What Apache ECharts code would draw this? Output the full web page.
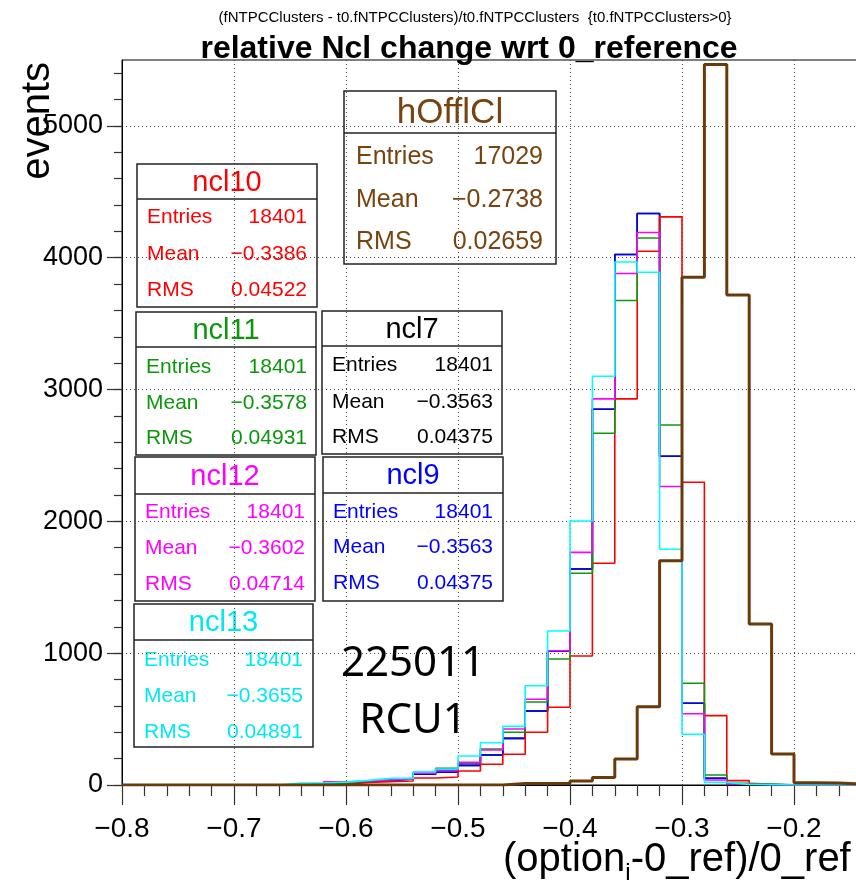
<!DOCTYPE html>
<html>
<head>
<meta charset="utf-8">
<script src="https://cdn.jsdelivr.net/npm/echarts@6/dist/echarts.min.js"></script>
<style>
html,body{margin:0;padding:0;background:#fff;}
#chart{width:856px;height:885px;}
</style>
</head>
<body>
<div id="chart"></div>
<script>
// ---------- data ----------
const binLow = [-0.80,-0.78,-0.76,-0.74,-0.72,-0.70,-0.68,-0.66,-0.64,-0.62,-0.60,-0.58,-0.56,-0.54,-0.52,-0.50,-0.48,-0.46,-0.44,-0.42,-0.40,-0.38,-0.36,-0.34,-0.32,-0.30,-0.28,-0.26,-0.24,-0.22,-0.20,-0.18,-0.16,-0.14,-0.12];
const binEnd = -0.10;

const ncl7  = [0,0,0,0,0,0,0,0,5,15,28,35,45,81,97,149,228,354,561,1015,1639,2850,4024,4335,2494,620,51,8,2,0,0,0,0,0,0];
const ncl9  = [0,0,0,0,0,0,0,0,5,15,28,35,45,81,97,149,228,354,561,1015,1639,2850,4024,4335,2494,620,51,8,2,0,0,0,0,0,0];
const ncl10 = [0,0,0,0,0,0,0,0,0,5,20,25,30,53,61,106,157,233,400,590,979,1682,2929,4049,4310,2297,526,33,5,0,0,0,0,0,0];
const ncl11 = [0,0,0,0,0,0,0,0,5,15,30,40,50,97,126,165,273,400,630,956,1606,2668,3675,4150,2731,772,76,12,8,2,0,0,0,0,0];
const ncl12 = [0,0,0,0,0,0,0,0,5,25,30,40,45,90,113,172,266,425,650,1019,1765,2929,3880,4191,2264,541,38,8,2,0,0,0,0,0,0];
const ncl13 = [0,0,0,0,0,0,0,15,15,22,35,50,50,99,121,220,321,445,753,1168,2003,3101,3968,3890,1788,385,20,5,3,0,0,0,0,0,0];
const hOfflCl = [0,0,0,0,0,0,0,0,0,0,0,0,0,0,0,0,0,12,12,12,30,56,197,594,1702,3852,5465,3718,1222,235,18,15,8,5,3];

const yMajorTicks = [0,1000,2000,3000,4000,5000];
const yMinorTicks = [0,200,400,600,800,1000,1200,1400,1600,1800,2000,2200,2400,2600,2800,3000,3200,3400,3600,3800,4000,4200,4400,4600,4800,5000,5200,5400];

const statNames   = ['hOfflCl','ncl10','ncl11','ncl7','ncl12','ncl9','ncl13'];
const statEntries = ['17029','18401','18401','18401','18401','18401','18401'];
const statMean    = ['\u22120.2738','\u22120.3386','\u22120.3578','\u22120.3563','\u22120.3602','\u22120.3563','\u22120.3655'];
const statRMS     = ['0.02659','0.04522','0.04931','0.04375','0.04714','0.04375','0.04891'];

const titleText = 'relative Ncl change wrt 0_reference';
const subTitleText = '(fNTPCClusters - t0.fNTPCClusters)/t0.fNTPCClusters  {t0.fNTPCClusters>0}';
const yTitle = 'events';
const runText = '225011';
const rcuText = 'RCU1';

// ---------- styles ----------
const C = {
  ncl7:'#000000', ncl9:'#0000ff', ncl10:'#ff0000', ncl11:'#0c9a0c', ncl12:'#ff00ff', ncl13:'#00ffff', hOfflCl:'#6b3a0b'
};
const statTextColor = {hOfflCl:'#774410', ncl10:'#ff0000', ncl11:'#0c960c', ncl7:'#000000', ncl12:'#ff00ff', ncl9:'#0000ff', ncl13:'#00e8f0'};

function histData(vals){
  const d = binLow.map((x,i)=>[x, vals[i]]);
  d.push([binEnd, vals[vals.length-1]]);
  return d;
}
function histSeries(name, vals, width){
  return {
    name, type:'line', step:'end', showSymbol:false, symbol:'none',
    data: histData(vals), clip:true, animation:false,
    lineStyle:{color:C[name], width:width}, itemStyle:{color:C[name]},
    xAxisIndex:0, yAxisIndex:0
  };
}

// stat box layouts: [x, y, w, h, headerY, titleSize, rowSize, rowYs, textLeft, textRight]
const boxLayout = {
  hOfflCl:[344,91,212,173,133,35,25,[157,200,242],356,543],
  ncl10:[137,164,180,143,199,29,21,[217,254,290],147,307],
  ncl11:[136,312,180,143,347,29,21,[367,403,438],146,307],
  ncl7:[322,311,180,143,346,29,21,[365,402,437],332,493],
  ncl12:[135,457,180,144,494,29,21,[512,548,584],145,305],
  ncl9:[323,457,180,144,493,29,21,[512,547,583],333,493],
  ncl13:[134,604,179,143,640,29,21,[660,696,732],144,303]
};
const FF = '"Liberation Sans", Arial, Helvetica, sans-serif';
function statBox(i){
  const n = statNames[i];
  const L = boxLayout[n];
  const [x,y,w,h,hy,ts,rs,rows,tl,tr] = L;
  const col = statTextColor[n];
  const els = [
    {type:'rect', shape:{x,y,width:w,height:h}, style:{fill:'#fff', stroke:'#222', lineWidth:1.5}},
    {type:'line', shape:{x1:x,y1:hy,x2:x+w,y2:hy}, style:{stroke:'#222', lineWidth:1.5}},
    {type:'text', x:x+w/2, y:(y+hy)/2+1, style:{text:n, fill:col, fontSize:ts, fontFamily:FF, align:'center', verticalAlign:'middle'}}
  ];
  const labels = ['Entries','Mean','RMS'];
  const vals = [statEntries[i], statMean[i], statRMS[i]];
  for(let k=0;k<3;k++){
    els.push({type:'text', x:tl, y:rows[k], style:{text:labels[k], fill:col, fontSize:rs, fontFamily:FF, align:'left', verticalAlign:'middle'}});
    els.push({type:'text', x:tr, y:rows[k], style:{text:vals[k], fill:col, fontSize:rs, fontFamily:FF, align:'right', verticalAlign:'middle'}});
  }
  return {type:'group', z:100, children:els};
}

const chart = echarts.init(document.getElementById('chart'), null, {renderer:'canvas'});
const gridLine = {show:true, lineStyle:{color:'#444', width:1, type:[1,3]}};

const option = {
  animation:false,
  backgroundColor:'#ffffff',
  grid:{left:122, top:60, width:784, height:725, containLabel:false, outerBoundsMode:'none', show:true, borderColor:'#000', borderWidth:1, backgroundColor:'transparent'},
  xAxis:[{
    type:'value', min:-0.8, max:-0.1, interval:0.1,
    axisLine:{show:true, onZero:false, lineStyle:{color:'#000', width:1}},
    axisTick:{show:true, inside:false, length:20, lineStyle:{color:'#333', width:1.2}},
    minorTick:{show:true, splitNumber:5, length:11, lineStyle:{color:'#333', width:1.2}},
    splitLine:gridLine,
    axisLabel:{margin:30, fontSize:28, color:'#000', fontFamily:FF,
      formatter:v=> (v<0?'\u2212':'') + Math.abs(v).toFixed(1)}
  }],
  yAxis:[{
    type:'value', min:0, max:5500, interval:1000,
    axisLine:{show:true, onZero:false, lineStyle:{color:'#000', width:1}},
    axisTick:{show:true, inside:false, length:15, customValues:yMajorTicks, lineStyle:{color:'#333', width:1.2}},
    splitLine:gridLine,
    axisLabel:{margin:19, fontSize:27, color:'#000', fontFamily:FF, customValues:yMajorTicks,
      formatter:v=>String(Math.round(v))}
  },{
    type:'value', min:0, max:5500, interval:200, position:'left',
    axisLine:{show:false},
    axisTick:{show:true, inside:false, length:8, customValues:yMinorTicks, lineStyle:{color:'#333', width:1.2}},
    splitLine:{show:false},
    axisLabel:{show:false}
  }],
  series:[
    histSeries('ncl7', ncl7, 1.6),
    histSeries('ncl9', ncl9, 1.6),
    histSeries('ncl10', ncl10, 1.6),
    histSeries('ncl11', ncl11, 1.6),
    histSeries('ncl12', ncl12, 1.6),
    histSeries('ncl13', ncl13, 1.6),
    histSeries('hOfflCl', hOfflCl, 3)
  ],
  graphic:[
    {type:'text', x:475, y:18, z:100, style:{text:subTitleText, fontSize:15, fontFamily:FF, fill:'#000', align:'center', verticalAlign:'middle'}},
    {type:'text', x:469, y:49, z:100, style:{text:titleText, fontSize:32, fontWeight:'bold', fontFamily:FF, fill:'#000', align:'center', verticalAlign:'middle'}},
    {type:'text', x:38, y:62, rotation:Math.PI/2, z:100, style:{text:yTitle, fontSize:40, fontFamily:FF, fill:'#000', align:'right', verticalAlign:'middle'}},
    {type:'text', x:503, y:860, z:100, style:{
      text:'(option{s|i}-0_ref)/0_ref', fontSize:40, fontFamily:FF, fill:'#000', align:'left', verticalAlign:'middle',
      rich:{s:{fontSize:24, fontFamily:FF, fill:'#000', padding:[26,0,0,0]}}
    }},
    {type:'text', x:413, y:664, z:100, style:{text:runText, fontSize:42, fontFamily:'"Noto Sans", "Open Sans", sans-serif', fill:'#000', align:'center', verticalAlign:'middle'}},
    {type:'text', x:413, y:721, z:100, style:{text:rcuText, fontSize:42, fontFamily:'"Noto Sans", "Open Sans", sans-serif', fill:'#000', align:'center', verticalAlign:'middle'}},
    ...statNames.map((n,i)=>statBox(i))
  ]
};
chart.setOption(option);
</script>
</body>
</html>
